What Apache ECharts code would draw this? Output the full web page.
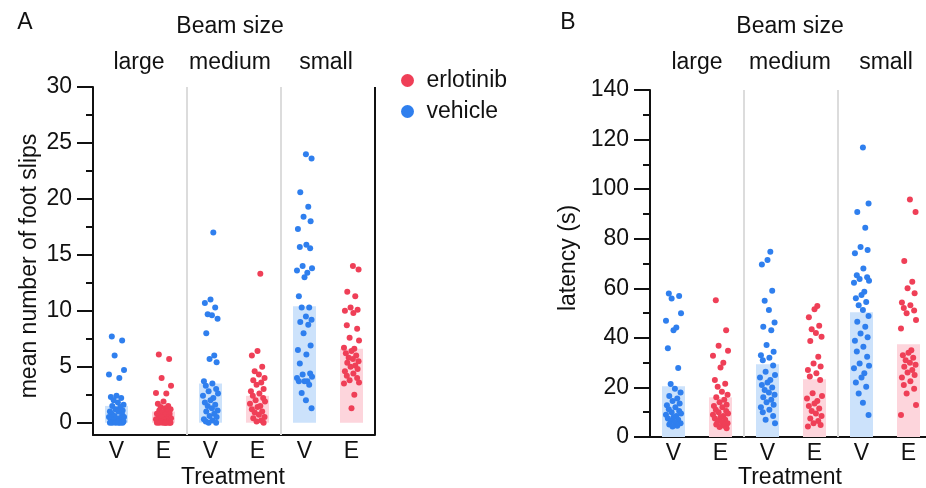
<!DOCTYPE html>
<html>
<head>
<meta charset="utf-8">
<script src="https://cdn.jsdelivr.net/npm/echarts@6/dist/echarts.min.js"></script>
<style>
html, body { margin: 0; padding: 0; background: #fff; }
#chart { width: 926px; height: 488px; }
</style>
</head>
<body>
<div id="chart"></div>
<script>
// beam sizes and treatment per bar (vehicle / erlotinib)
const beamSizes = ["large", "medium", "small"];
const treatments = ["V", "E", "V", "E", "V", "E"];
const slipTicks = [0, 5, 10, 15, 20, 25, 30];
const slipMinorTicks = [2.5, 7.5, 12.5, 17.5, 22.5, 27.5];
const latencyTicks = [0, 20, 40, 60, 80, 100, 120, 140];
const latencyMinorTicks = [10, 30, 50, 70, 90, 110, 130];

// bar heights (group means)
const slipsMeanV = [1.5, 3.5, 10.4];
const slipsMeanE = [1.0, 2.4, 6.6];
const latencyMeanV = [20.5, 29.4, 50.3];
const latencyMeanE = [16.0, 23.3, 37.4];

// individual animals, foot slips
const slipsLargeV = [7.7, 7.35, 6.0, 4.7, 4.3, 4.0, 2.4, 2.3, 2.2, 2.0, 1.8, 1.6, 1.5, 1.4, 1.2, 1.1, 1.0, 1.0, 0.8, 0.7, 0.6, 0.5, 0.5, 0.4, 0.3, 0.3, 0.2, 0.2, 0.1, 0.1, 0, 0, 0, 0, 0, 0];
const slipsLargeE = [6.1, 5.7, 4.0, 3.3, 2.65, 2.6, 1.9, 1.7, 1.5, 1.4, 1.3, 1.2, 1.1, 1.0, 0.9, 0.8, 0.8, 0.7, 0.6, 0.5, 0.5, 0.4, 0.3, 0.3, 0.2, 0.2, 0.1, 0.1, 0, 0, 0, 0, 0, 0, 0, 0];
const slipsMediumV = [17.0, 11.0, 10.7, 10.3, 9.7, 9.6, 9.3, 8.0, 6.0, 5.7, 5.4, 3.7, 3.5, 3.3, 3.0, 2.8, 2.6, 2.4, 2.2, 2.0, 1.8, 1.6, 1.5, 1.3, 1.1, 1.0, 0.8, 0.6, 0.5, 0.3, 0.2, 0.1, 0, 0];
const slipsMediumE = [13.3, 6.4, 6.0, 5.0, 4.6, 4.3, 4.0, 3.8, 3.6, 3.4, 3.0, 2.8, 2.6, 2.4, 2.2, 2.0, 1.9, 1.7, 1.5, 1.4, 1.2, 1.0, 0.9, 0.7, 0.5, 0.4, 0.2, 0.1, 0];
const slipsSmallV = [24.0, 23.6, 20.6, 19.3, 18.4, 18.0, 17.3, 15.9, 15.7, 15.6, 14.0, 13.8, 13.6, 13.4, 13.0, 11.3, 10.3, 10.3, 9.5, 9.2, 9.0, 8.75, 8.0, 6.9, 6.5, 6.1, 5.3, 4.4, 4.3, 4.1, 4.0, 3.7, 3.7, 3.7, 3.4, 2.65, 2.0, 1.3];
const slipsSmallE = [14.0, 13.7, 11.7, 11.3, 10.3, 10.1, 10.0, 9.8, 8.7, 8.4, 7.6, 7.35, 6.7, 6.6, 6.4, 6.2, 6.0, 5.8, 5.7, 5.5, 5.35, 5.1, 5.0, 4.8, 4.6, 4.4, 4.2, 4.0, 3.8, 3.6, 3.5, 2.5, 1.3];

// individual animals, latency (s)
const latencyLargeV = [57.9, 56.9, 55.9, 49.9, 46.9, 44.2, 43.1, 35.8, 27.8, 21.4, 19.5, 18.0, 16.5, 15.5, 14.5, 13.5, 12.8, 12.0, 11.2, 10.5, 10.0, 9.5, 9.0, 8.5, 8.0, 7.5, 7.0, 6.5, 6.0, 5.5, 5.0, 4.5, 4.2];
const latencyLargeE = [55.2, 43.1, 36.8, 34.8, 32.8, 30.0, 28.0, 23.0, 21.5, 20.3, 18.3, 17.0, 16.0, 15.0, 14.0, 13.0, 12.5, 12.0, 11.0, 10.5, 10.0, 9.5, 9.0, 8.5, 8.0, 7.5, 7.0, 6.5, 6.0, 5.5, 5.0, 4.5, 4.0, 3.5];
const latencyMediumV = [74.7, 71.4, 69.6, 59.0, 55.0, 51.2, 46.2, 44.5, 43.1, 37.1, 34.4, 33.0, 32.0, 31.0, 28.8, 26.3, 25.0, 24.0, 23.0, 22.0, 21.0, 20.0, 19.0, 18.0, 17.0, 16.0, 15.0, 14.0, 13.0, 12.0, 11.0, 10.0, 8.5, 7.0, 5.5];
const latencyMediumE = [52.9, 51.5, 48.3, 44.9, 43.5, 42.0, 40.4, 38.7, 32.4, 29.7, 28.4, 27.0, 25.7, 24.4, 23.0, 17.7, 16.5, 15.5, 14.5, 13.5, 12.5, 11.5, 10.5, 9.5, 8.5, 7.5, 6.5, 5.5, 4.8, 4.2];
const latencySmallV = [116.8, 94.2, 90.8, 84.4, 76.7, 75.4, 74.1, 68.0, 65.3, 64.5, 63.7, 63.0, 62.2, 58.6, 57.3, 56.0, 54.5, 53.2, 51.2, 48.8, 46.5, 44.5, 41.8, 40.2, 38.8, 36.4, 34.5, 32.4, 29.7, 28.7, 27.7, 25.7, 24.0, 22.0, 20.3, 17.6, 13.8, 8.9];
const latencySmallE = [95.8, 90.8, 71.0, 62.6, 60.0, 58.0, 54.3, 53.2, 52.0, 51.0, 49.9, 47.2, 43.8, 35.0, 34.0, 33.0, 32.0, 31.0, 30.0, 29.2, 28.3, 27.0, 26.0, 25.0, 24.0, 22.5, 21.0, 19.5, 17.6, 12.9, 8.9];

const blue = "#2f7fee";
const red = "#ef3f57";
const lightBlue = "#cce2fb";
const lightRed = "#fdd5dc";
const ink = "#111";
const font = "'Liberation Sans', Arial, sans-serif";
const fs = 23;

// horizontal spread of the dots around each bar (fraction of a category)
const jitter = [-0.1, 0.12, -0.04, 0.16, -0.16, 0.06, 0.0, -0.12, 0.1, -0.06, 0.03, 0.15, -0.09, 0.08, -0.02, 0.13, -0.14, 0.04];

function dots(lists, shift) {
  let out = [];
  lists.forEach((vals, g) => {
    vals.forEach((v, i) => out.push([2 * g + shift + jitter[(i + g * 5) % jitter.length], v]));
  });
  return out;
}

function bars(meanV, meanE) {
  let out = [];
  meanV.forEach((v, g) => {
    out.push({ value: v, itemStyle: { color: lightBlue } });
    out.push({ value: meanE[g], itemStyle: { color: lightRed } });
  });
  return out;
}

function panelAxes(gridIndex, min, max, ticks, minorTicks) {
  let x = [
    {
      type: "category",
      gridIndex: gridIndex,
      data: treatments.map((t, i) => i + "-" + t),
      axisLine: { onZero: false, lineStyle: { color: ink, width: 2 } },
      axisTick: { show: false },
      axisLabel: {
        formatter: (v) => v.split("-")[1],
        fontSize: fs, color: ink, fontFamily: font, margin: 5
      }
    },
    { type: "value", gridIndex: gridIndex, min: -0.5, max: 5.5, show: false, axisLine: { onZero: false } }
  ];
  const base = { type: "value", gridIndex: gridIndex, position: "left", offset: 0, min: min, max: max, splitLine: { show: false } };
  let y = [
    // axis line + labels
    Object.assign({}, base, {
      axisLine: { show: true, onZero: false, lineStyle: { color: ink, width: 2 } },
      axisTick: { show: false },
      axisLabel: { customValues: ticks, fontSize: fs, color: ink, fontFamily: font, margin: 21 }
    }),
    // major ticks
    Object.assign({}, base, {
      axisLine: { show: false, onZero: false },
      axisTick: { show: true, customValues: ticks, length: 16, lineStyle: { color: ink, width: 2 } },
      axisLabel: { show: false }
    }),
    // minor ticks
    Object.assign({}, base, {
      axisLine: { show: false, onZero: false },
      axisTick: { show: true, customValues: minorTicks, length: 7, lineStyle: { color: ink, width: 2 } },
      axisLabel: { show: false }
    })
  ];
  return { x: x, y: y };
}

function dividers(withRightEdge) {
  let d = [
    { xAxis: 1.5, lineStyle: { color: "#dcdcdc", width: 2, type: "solid" } },
    { xAxis: 3.5, lineStyle: { color: "#dcdcdc", width: 2, type: "solid" } }
  ];
  if (withRightEdge) d.push({ xAxis: 5.5, lineStyle: { color: ink, width: 2, type: "solid" } });
  return { silent: true, symbol: "none", label: { show: false }, data: d };
}

const axesA = panelAxes(0, -1.1, 30, slipTicks, slipMinorTicks);
const axesB = panelAxes(1, 0, 140, latencyTicks, latencyMinorTicks);

function text(str, x, y, extra) {
  return Object.assign({
    type: "text", x: x, y: y,
    style: { text: str, fontSize: fs, fontFamily: font, fill: ink, align: "center", verticalAlign: "middle" }
  }, extra || {});
}

const groupCentersA = [139, 230, 326];
const groupCentersB = [697, 790, 886];

let graphics = [
  text("A", 25, 23),
  text("B", 568, 23),
  text("Beam size", 230, 27),
  text("Beam size", 790, 27),
  text("Treatment", 233, 478),
  text("Treatment", 790, 478),
  text("mean number of foot slips", 30, 266, { rotation: Math.PI / 2 }),
  text("latency (s)", 569, 258, { rotation: Math.PI / 2 })
];
beamSizes.forEach((b, i) => {
  graphics.push(text(b, groupCentersA[i], 63));
  graphics.push(text(b, groupCentersB[i], 63));
});

const chart = echarts.init(document.getElementById("chart"));
chart.setOption({
  animation: false,
  backgroundColor: "#fff",
  textStyle: { fontFamily: font },
  legend: {
    data: ["erlotinib", "vehicle"],
    orient: "vertical",
    left: 396, top: 64,
    icon: "circle",
    itemWidth: 28, itemHeight: 13,
    itemGap: 8,
    textStyle: { fontSize: fs, color: ink, fontFamily: font }
  },
  grid: [
    { left: 93, top: 87, width: 282, height: 348, outerBoundsMode: "none" },
    { left: 650, top: 90, width: 282, height: 347, outerBoundsMode: "none" }
  ],
  xAxis: axesA.x.concat(axesB.x),
  yAxis: axesA.y.concat(axesB.y),
  graphic: graphics,
  series: [
    { type: "bar", xAxisIndex: 0, yAxisIndex: 0, barWidth: 23, data: bars(slipsMeanV, slipsMeanE), silent: true },
    {
      name: "vehicle", type: "scatter", xAxisIndex: 1, yAxisIndex: 0, symbolSize: 6,
      itemStyle: { color: blue, opacity: 1 },
      data: dots([slipsLargeV, slipsMediumV, slipsSmallV], 0),
      markLine: dividers(true)
    },
    {
      name: "erlotinib", type: "scatter", xAxisIndex: 1, yAxisIndex: 0, symbolSize: 6,
      itemStyle: { color: red, opacity: 1 },
      data: dots([slipsLargeE, slipsMediumE, slipsSmallE], 1)
    },
    { type: "bar", xAxisIndex: 2, yAxisIndex: 3, barWidth: 23, data: bars(latencyMeanV, latencyMeanE), silent: true },
    {
      name: "vehicle", type: "scatter", xAxisIndex: 3, yAxisIndex: 3, symbolSize: 6,
      itemStyle: { color: blue, opacity: 1 },
      data: dots([latencyLargeV, latencyMediumV, latencySmallV], 0),
      markLine: dividers(false)
    },
    {
      name: "erlotinib", type: "scatter", xAxisIndex: 3, yAxisIndex: 3, symbolSize: 6,
      itemStyle: { color: red, opacity: 1 },
      data: dots([latencyLargeE, latencyMediumE, latencySmallE], 1)
    }
  ]
});
</script>
</body>
</html>
